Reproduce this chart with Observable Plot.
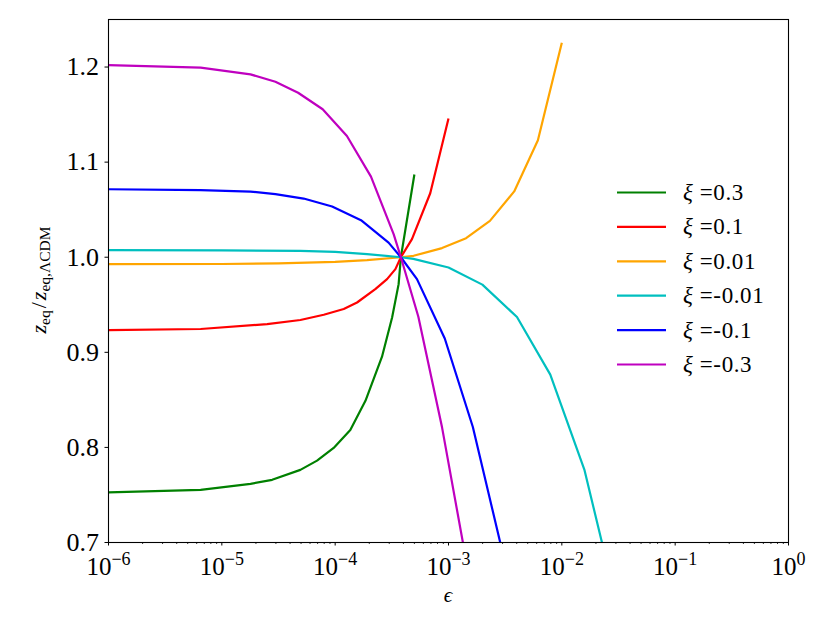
<!DOCTYPE html>
<html>
<head>
<meta charset="utf-8">
<script src="https://cdn.jsdelivr.net/npm/d3@7"></script>
<script src="https://cdn.jsdelivr.net/npm/@observablehq/plot@0.6"></script>
<style>
  html, body { margin: 0; padding: 0; background: white; }
  #chart svg { display: block; }
</style>
</head>
<body>
<div id="chart"></div>
<script>
// ---- data ----
const seriesNames = ["0.3", "0.1", "0.01", "-0.01", "-0.1", "-0.3"];
const seriesColors = ["#008000", "#ff0000", "#ffa500", "#00bfbf", "#0000ff", "#bf00bf"];

const epsXi03 = [1e-6, 6.5e-6, 1.79e-5, 2.78e-5, 4.93e-5, 6.92e-5, 9.7e-5, 1.36e-4, 1.85e-4, 2.59e-4, 3.18e-4, 3.63e-4, 3.8e-4, 5e-4];
const zXi03   = [0.7528, 0.7554, 0.7617, 0.7659, 0.7764, 0.7861, 0.7995, 0.8184, 0.849, 0.8954, 0.9367, 0.9717, 1.0, 1.087];

const epsXi01 = [1e-6, 6.5e-6, 2.51e-5, 4.93e-5, 7.93e-5, 1.19e-4, 1.56e-4, 2.26e-4, 2.87e-4, 3.4e-4, 3.8e-4, 4.76e-4, 6.9e-4, 1e-3];
const zXi01   = [0.9234, 0.9245, 0.9297, 0.934, 0.9395, 0.9455, 0.9524, 0.9665, 0.977, 0.9875, 1.0, 1.019, 1.0673, 1.146];

const epsXi001 = [1e-6, 1e-5, 3.16e-5, 1e-4, 1.91e-4, 3.8e-4, 4.92e-4, 8.77e-4, 1.43e-3, 2.32e-3, 3.8e-3, 6.15e-3, 1e-2];
const zXi001   = [0.9928, 0.9929, 0.9935, 0.9952, 0.997, 1.0, 1.0015, 1.0096, 1.020, 1.0382, 1.0692, 1.123, 1.2255];

const epsXim001 = [1e-6, 1e-5, 4.93e-5, 1e-4, 1.91e-4, 3.8e-4, 4.9e-4, 1e-3, 1.99e-3, 4.02e-3, 7.91e-3, 1.58e-2, 2.26e-2];
const zXim001   = [1.0075, 1.0072, 1.0067, 1.0057, 1.0033, 1.0, 0.9983, 0.9892, 0.9712, 0.9371, 0.8765, 0.7767, 0.7];

const epsXim01 = [1e-6, 6.5e-6, 1.79e-5, 2.97e-5, 5.27e-5, 9.4e-5, 1.69e-4, 2.96e-4, 3.8e-4, 5.27e-4, 9.27e-4, 1.64e-3, 2.86e-3];
const zXim01   = [1.0715, 1.0705, 1.069, 1.0663, 1.0617, 1.0533, 1.039, 1.0154, 1.0, 0.977, 0.9145, 0.8215, 0.7];

const epsXim03 = [1e-6, 6.5e-6, 1.79e-5, 2.97e-5, 4.71e-5, 7.76e-5, 1.27e-4, 2.07e-4, 3.28e-4, 3.8e-4, 5.42e-4, 8.77e-4, 1.34e-3];
const zXim03   = [1.202, 1.1993, 1.1923, 1.1846, 1.173, 1.1556, 1.1275, 1.0848, 1.0243, 1.0, 0.9374, 0.8211, 0.7];

const xMajorTicks = [1e-6, 1e-5, 1e-4, 1e-3, 1e-2, 1e-1, 1];
const xTickExponents = ["−6", "−5", "−4", "−3", "−2", "−1", "0"];
const yTicks = [0.7, 0.8, 0.9, 1.0, 1.1, 1.2];
const yTickLabels = ["0.7", "0.8", "0.9", "1.0", "1.1", "1.2"];

// ---- table built from the arrays ----
const epsList = [epsXi03, epsXi01, epsXi001, epsXim001, epsXim01, epsXim03];
const zList = [zXi03, zXi01, zXi001, zXim001, zXim01, zXim03];
const rows = [];
seriesNames.forEach((s, i) => {
  epsList[i].forEach((e, j) => rows.push({series: s, eps: e, z: zList[i][j]}));
});
const xMinorTicks = d3.scaleLog().domain([1e-6, 1]).ticks().filter(t => !xMajorTicks.some(m => Math.abs(m - t) / m < 1e-9));

const FONT = "'Liberation Serif', 'DejaVu Serif', serif";

const chart = Plot.plot({
  width: 830,
  height: 623,
  marginLeft: 108,
  marginRight: 42,
  marginTop: 19,
  marginBottom: 81,
  style: {fontFamily: FONT, background: "white", color: "black"},
  x: {type: "log", domain: [1e-6, 1]},
  y: {domain: [0.7, 1.25]},
  color: {domain: seriesNames, range: seriesColors},
  marks: [
    Plot.line(rows, {x: "eps", y: "z", z: "series", stroke: "series", strokeWidth: 2.2, strokeLinecap: "butt", clip: true}),
    Plot.frame({stroke: "black", strokeWidth: 1.1}),
    Plot.axisX(xMinorTicks, {tickSize: 2, tickFormat: () => "", label: null, strokeWidth: 0.8}),
    Plot.axisX(xMajorTicks, {tickSize: 3.5, tickPadding: 11, fontSize: 25, label: null, strokeWidth: 1,
      tickFormat: d => "10^" + xTickExponents[xMajorTicks.indexOf(d)]}),
    Plot.axisY(yTicks, {tickSize: 3.5, tickPadding: 6, fontSize: 26, label: null, strokeWidth: 1,
      tickFormat: d => yTickLabels[yTicks.indexOf(d)]})
  ]
});

document.getElementById("chart").appendChild(chart);

// superscripts on the x tick labels
const svg = d3.select(chart.tagName.toLowerCase() === "svg" ? chart : chart.querySelector("svg"));
svg.selectAll("text").each(function() {
  const t = this.textContent;
  if (t.startsWith("10^")) {
    const exp = t.slice(3);
    const el = d3.select(this);
    el.text("10");
    el.append("tspan").attr("dy", "-10").attr("font-size", 18).text(exp);
  }
});

// y axis label
const yl = svg.append("text")
  .attr("transform", "translate(46,280) rotate(-90)")
  .attr("text-anchor", "middle")
  .attr("font-family", FONT)
  .attr("font-size", 22)
  .attr("fill", "black");
yl.append("tspan").attr("font-style", "italic").text("z");
yl.append("tspan").attr("font-size", 15.5).attr("dy", 4).text("eq");
yl.append("tspan").attr("dy", -4).attr("dx", 2).text("/");
yl.append("tspan").attr("font-style", "italic").attr("dx", 2).text("z");
yl.append("tspan").attr("font-size", 15.5).attr("dy", 4).text("eq,ΛCDM");

// x axis label
svg.append("text")
  .attr("x", 448).attr("y", 602)
  .attr("text-anchor", "middle")
  .attr("font-family", FONT)
  .attr("font-style", "italic")
  .attr("font-size", 21)
  .attr("fill", "black")
  .text("ϵ");

// legend
const lg = svg.append("g").attr("font-family", FONT).attr("font-size", 23).attr("text-anchor", "start");
seriesNames.forEach((s, i) => {
  const yy = 192.5 + i * 34.4;
  lg.append("line").attr("x1", 617).attr("x2", 666).attr("y1", yy).attr("y2", yy)
    .attr("stroke", seriesColors[i]).attr("stroke-width", 2.2);
  const t = lg.append("text").attr("x", 683).attr("y", yy + 7.5).attr("fill", "black")
    .attr("text-anchor", "start").attr("letter-spacing", 0.6);
  t.append("tspan").attr("font-style", "italic").text("ξ");
  t.append("tspan").text(" =" + s);
});
</script>
</body>
</html>
